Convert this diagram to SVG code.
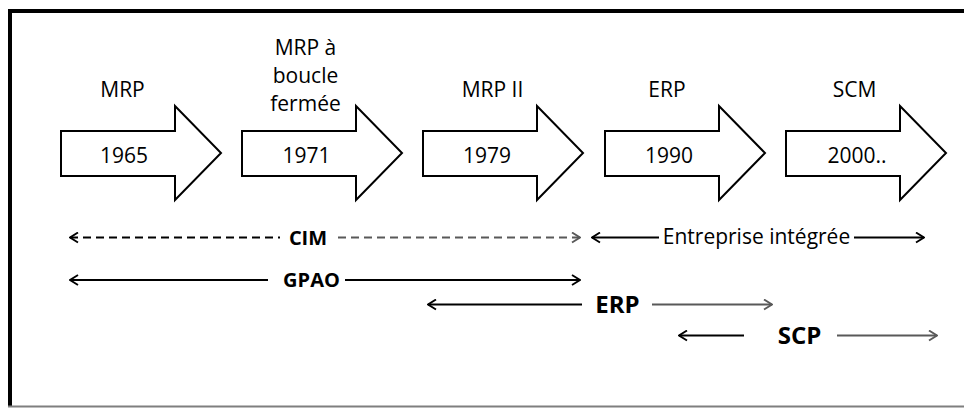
<svg xmlns="http://www.w3.org/2000/svg" width="964" height="408" viewBox="0 0 964 408">
<style>
.arrow{fill:#fff;stroke:#000;stroke-width:2;stroke-linejoin:miter}
.lbl{font-family:"Open Sans","Liberation Sans",sans-serif;font-size:21px;fill:#000;text-anchor:middle}
.b{font-weight:bold;font-size:20px}
.big{font-size:24px}
.ln{fill:none;stroke:#000;stroke-width:1.8}
.gr{stroke:#595959}
.dash{stroke-dasharray:8 5}
</style>
<defs>
<marker id="hk" viewBox="0 0 10 12" refX="9" refY="6" markerWidth="10" markerHeight="12" markerUnits="userSpaceOnUse" orient="auto-start-reverse">
<path d="M1,1 L9,6 L1,11" fill="none" stroke="#000" stroke-width="1.9" stroke-dasharray="none"/>
</marker>
<marker id="hg" viewBox="0 0 10 12" refX="9" refY="6" markerWidth="10" markerHeight="12" markerUnits="userSpaceOnUse" orient="auto-start-reverse">
<path d="M1,1 L9,6 L1,11" fill="none" stroke="#595959" stroke-width="1.9" stroke-dasharray="none"/>
</marker>
</defs>
<rect width="964" height="408" fill="#fff"/>
<g id="frame">
<line x1="8" y1="11" x2="964" y2="11" stroke="#000" stroke-width="4"/>
<line x1="10" y1="9" x2="10" y2="407" stroke="#000" stroke-width="4"/>
<line x1="8" y1="406.5" x2="964" y2="406.5" stroke="#7f7f7f" stroke-width="2"/>
</g>
<g id="n1965">
<path class="arrow" d="M61,131 H175 V106 L221,153 L175,200 V176 H61 Z"/>
<text class="lbl" x="122.5" y="97">MRP</text>
<text class="lbl" x="124" y="163">1965</text>
</g>
<g id="n1971">
<path class="arrow" d="M242,131 H356 V106 L402,153 L356,200 V176 H242 Z"/>
<text class="lbl" x="305.5" y="55">MRP à</text>
<text class="lbl" x="305.5" y="83">boucle</text>
<text class="lbl" x="305.5" y="111">fermée</text>
<text class="lbl" x="306.5" y="163">1971</text>
</g>
<g id="n1979">
<path class="arrow" d="M423,131 H537 V106 L583,153 L537,200 V176 H423 Z"/>
<text class="lbl" x="492.5" y="97">MRP II</text>
<text class="lbl" x="487" y="163">1979</text>
</g>
<g id="n1990">
<path class="arrow" d="M605,131 H719 V106 L765,153 L719,200 V176 H605 Z"/>
<text class="lbl" x="667" y="97">ERP</text>
<text class="lbl" x="669" y="163">1990</text>
</g>
<g id="n2000">
<path class="arrow" d="M786,131 H900 V106 L946,153 L900,200 V176 H786 Z"/>
<text class="lbl" x="854.5" y="97">SCM</text>
<text class="lbl" x="857" y="163">2000..</text>
</g>
<g id="connectors">
<line class="ln dash" x1="70" y1="237.5" x2="280" y2="237.5" marker-start="url(#hk)"/>
<line class="ln dash gr" x1="338" y1="237.5" x2="580" y2="237.5" marker-end="url(#hg)"/>
<line class="ln" x1="592" y1="237.5" x2="659" y2="237.5" marker-start="url(#hk)"/>
<line class="ln" x1="854" y1="237.5" x2="924" y2="237.5" marker-end="url(#hk)"/>
<line class="ln" x1="70" y1="280" x2="268" y2="280" marker-start="url(#hk)"/>
<line class="ln" x1="345" y1="280" x2="580" y2="280" marker-end="url(#hk)"/>
<line class="ln" x1="428" y1="304.5" x2="582" y2="304.5" marker-start="url(#hk)"/>
<line class="ln gr" x1="652" y1="304.5" x2="772" y2="304.5" marker-end="url(#hg)"/>
<line class="ln" x1="679" y1="335.5" x2="744" y2="335.5" marker-start="url(#hk)"/>
<line class="ln gr" x1="837" y1="335.5" x2="937" y2="335.5" marker-end="url(#hg)"/>
</g>
<g id="labels">
<text class="lbl b" x="308" y="245">CIM</text>
<text class="lbl" x="756.5" y="244" font-size="20">Entreprise intégrée</text>
<text class="lbl b" x="311.5" y="287">GPAO</text>
<text class="lbl b big" x="617.5" y="313">ERP</text>
<text class="lbl b big" x="799.5" y="344">SCP</text>
</g>
</svg>
